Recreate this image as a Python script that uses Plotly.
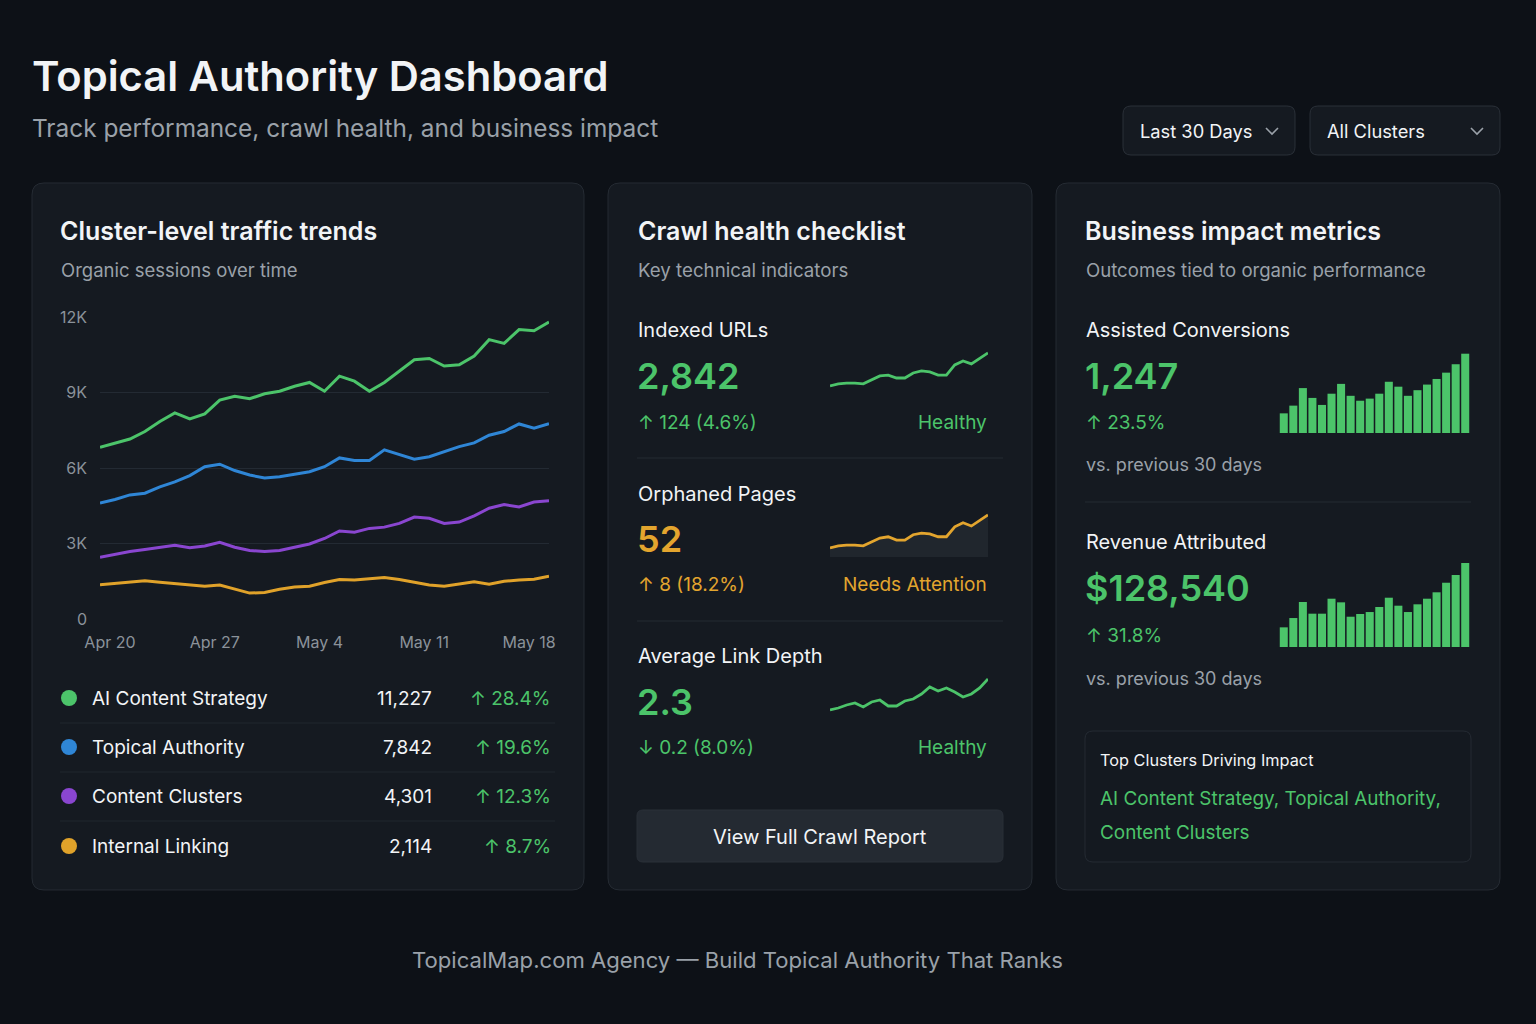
import plotly.graph_objects as go
import pandas as pd

W, H = 1536, 1024
FONT = "Inter"

# ---------------- DATA ----------------
dates = pd.date_range("2024-04-19", "2024-05-19", freq="D").strftime("%Y-%m-%d").tolist()

series_names = ["AI Content Strategy", "Topical Authority", "Content Clusters", "Internal Linking"]
series_colors = ["#4cc46a", "#2f86d6", "#8a46d0", "#e0a22a"]

ai_content_k = [6.82, 7.00, 7.15, 7.45, 7.85, 8.19, 7.95, 8.15, 8.70, 8.85, 8.75, 8.95, 9.05, 9.25, 9.40,
                9.05, 9.65, 9.45, 9.05, 9.40, 9.85, 10.30, 10.35, 10.05, 10.10, 10.45, 11.10, 10.95, 11.50, 11.45, 11.80]
topical_auth_k = [4.61, 4.75, 4.93, 5.00, 5.25, 5.45, 5.70, 6.05, 6.15, 5.90, 5.72, 5.60, 5.65, 5.75, 5.85,
                  6.05, 6.40, 6.30, 6.30, 6.72, 6.55, 6.35, 6.45, 6.65, 6.85, 7.00, 7.30, 7.45, 7.75, 7.58, 7.76]
content_clusters_k = [2.45, 2.58, 2.68, 2.76, 2.85, 2.93, 2.83, 2.90, 3.05, 2.85, 2.72, 2.68, 2.72, 2.85, 2.98,
                      3.20, 3.50, 3.45, 3.60, 3.65, 3.80, 4.05, 4.00, 3.80, 3.85, 4.10, 4.40, 4.55, 4.45, 4.65, 4.70]
internal_linking_k = [1.36, 1.42, 1.48, 1.52, 1.46, 1.40, 1.34, 1.30, 1.35, 1.20, 1.03, 1.05, 1.18, 1.27, 1.30,
                      1.45, 1.57, 1.55, 1.60, 1.65, 1.57, 1.45, 1.35, 1.30, 1.38, 1.48, 1.38, 1.50, 1.55, 1.58, 1.70]
series_values_k = [ai_content_k, topical_auth_k, content_clusters_k, internal_linking_k]

legend_totals = ["11,227", "7,842", "4,301", "2,114"]
legend_changes = ["↑ 28.4%", "↑ 19.6%", "↑ 12.3%", "↑ 8.7%"]

y_tick_vals = [0, 3000, 6000, 9000, 12000]
y_tick_text = ["0", "3K", "6K", "9K", "12K"]
x_tick_vals = ["2024-04-20", "2024-04-27", "2024-05-04", "2024-05-11", "2024-05-18"]

spark_idx = list(range(20))
indexed_urls_trend = [2718, 2726, 2729, 2729, 2726, 2741, 2756, 2759, 2748, 2748, 2767, 2775, 2771, 2759, 2759,
                      2797, 2812, 2801, 2820, 2842]
orphaned_trend = [44.0, 44.5, 44.7, 44.7, 44.5, 45.5, 46.4, 46.7, 45.9, 45.9, 47.2, 47.6, 47.4, 46.7, 46.7,
                  49.1, 50.1, 49.3, 50.6, 52.0]
link_depth_trend = [1.0, 1.2, 1.5, 1.7, 1.3, 1.8, 2.0, 1.4, 1.4, 1.9, 2.1, 2.6, 3.3, 2.9, 3.2, 2.8, 2.3, 2.6, 3.2, 4.1]

bar_idx = list(range(1, 21))
assisted_conv = [28, 39, 64, 50, 40, 56, 70, 53, 46, 49, 56, 73, 66, 53, 61, 69, 77, 86, 98, 113]
revenue_daily = [2980, 4390, 6820, 5050, 5050, 7320, 6770, 4590, 5000, 5300, 6060, 7470, 6260, 5300, 6470,
                 7320, 8290, 9740, 10910, 12730]

# ---------------- COLORS ----------------
BG = "#0d1117"
CARD = "#151a21"
BORDER = "#252b33"
WHITE = "#f2f4f6"
GRAY = "#9aa1a9"
GREEN = "#4cc46a"
ORANGE = "#e3a52e"


def px(x):
    return x / W


def py(y):
    return 1 - y / H


fig = go.Figure()
annotations = []
shapes = []


def text(s, x, y, size, color, weight=400, anchor="left"):
    annotations.append(dict(text=s, x=px(x), y=py(y), xref="paper", yref="paper", xanchor=anchor,
                            yanchor="middle", showarrow=False, borderpad=0,
                            font=dict(family=FONT, size=size, color=color, weight=weight)))


def rrect(x0, y0, x1, y1, r, fill, line, lw=1):
    pts = [("M", x0 + r, y0), ("L", x1 - r, y0), ("Q", x1, y0, x1, y0 + r), ("L", x1, y1 - r),
           ("Q", x1, y1, x1 - r, y1), ("L", x0 + r, y1), ("Q", x0, y1, x0, y1 - r), ("L", x0, y0 + r),
           ("Q", x0, y0, x0 + r, y0)]
    d = ""
    for p in pts:
        cmd = p[0]
        coords = p[1:]
        seg = []
        for i in range(0, len(coords), 2):
            seg.append(f"{px(coords[i]):.5f},{py(coords[i + 1]):.5f}")
        d += cmd + " " + " ".join(seg) + " "
    d += "Z"
    shapes.append(dict(type="path", path=d, xref="paper", yref="paper", fillcolor=fill,
                       line=dict(color=line, width=lw), layer="below"))


def hline(x0, x1, y, color=BORDER, width=1):
    shapes.append(dict(type="line", x0=px(x0), x1=px(x1), y0=py(y), y1=py(y), xref="paper", yref="paper",
                       line=dict(color=color, width=width), layer="below"))


def chevron(cx, cy):
    d = f"M {px(cx - 6):.5f},{py(cy - 3):.5f} L {px(cx):.5f},{py(cy + 3):.5f} L {px(cx + 6):.5f},{py(cy - 3):.5f}"
    shapes.append(dict(type="path", path=d, xref="paper", yref="paper", line=dict(color="#9aa1a9", width=1.6)))


# ---------------- HEADER ----------------
text("Topical Authority Dashboard", 31, 76, 41.7, WHITE, 600)
text("Track performance, crawl health, and business impact", 31, 128, 24.4, GRAY)

rrect(1123, 106, 1295, 155, 8, CARD, "#2a3038")
text("Last 30 Days", 1139, 131, 18.3, WHITE)
chevron(1272, 131)
rrect(1310, 106, 1500, 155, 8, CARD, "#2a3038")
text("All Clusters", 1326, 131, 18.3, WHITE)
chevron(1477, 131)

# ---------------- CARDS ----------------
rrect(32, 183, 584, 890, 12, CARD, BORDER)
rrect(608, 183, 1032, 890, 12, CARD, BORDER)
rrect(1056, 183, 1500, 890, 12, CARD, BORDER)

# Card 1
text("Cluster-level traffic trends", 59, 231, 25, WHITE, 600)
text("Organic sessions over time", 60, 270, 18.5, GRAY)

for i, (name, vals, col) in enumerate(zip(series_names, series_values_k, series_colors)):
    fig.add_trace(go.Scatter(x=dates, y=[v * 1000 for v in vals], mode="lines", name=name,
                             line=dict(color=col, width=3), hoverinfo="skip", showlegend=False,
                             xaxis="x", yaxis="y"))

row_y = [698, 747, 796, 846]
for i in range(4):
    y = row_y[i]
    shapes.append(dict(type="circle", xref="paper", yref="paper", x0=px(61), x1=px(77), y0=py(y - 8),
                       y1=py(y + 8), fillcolor=series_colors[i], line=dict(width=0)))
    text(series_names[i], 91, y, 19, WHITE)
    text(legend_totals[i], 433, y, 19, WHITE, anchor="right")
    text(legend_changes[i], 552, y, 19, GREEN, anchor="right")
    if i < 3:
        hline(60, 555, y + 25, color="#20262e")

# Card 2
text("Crawl health checklist", 637, 231, 25, WHITE, 600)
text("Key technical indicators", 637, 270, 18.7, GRAY)

text("Indexed URLs", 637, 330, 20, WHITE)
text("2,842", 636, 376, 36, GREEN, 600)
text("↑ 124 (4.6%)", 637, 422, 19, GREEN)
text("Healthy", 988, 422, 19, GREEN, anchor="right")
hline(637, 1003, 458)

text("Orphaned Pages", 637, 494, 20, WHITE)
text("52", 636, 539, 36, ORANGE, 600)
text("↑ 8 (18.2%)", 637, 584, 19, ORANGE)
text("Needs Attention", 988, 584, 19, ORANGE, anchor="right")
hline(637, 1003, 621)

text("Average Link Depth", 637, 656, 20, WHITE)
text("2.3", 636, 702, 36, GREEN, 600)
text("↓ 0.2 (8.0%)", 637, 747, 19, GREEN)
text("Healthy", 988, 747, 19, GREEN, anchor="right")

rrect(637, 810, 1003, 862, 6, "#242a32", "#2a3038")
text("View Full Crawl Report", 820, 837, 20, WHITE, anchor="center")

fig.add_trace(go.Scatter(x=spark_idx, y=indexed_urls_trend, mode="lines", line=dict(color=GREEN, width=2.8),
                         hoverinfo="skip", showlegend=False, xaxis="x2", yaxis="y2"))
fig.add_trace(go.Scatter(x=spark_idx, y=orphaned_trend, mode="lines", line=dict(color=ORANGE, width=2.8),
                         fill="tozeroy", fillcolor="#20262d",
                         hoverinfo="skip", showlegend=False, xaxis="x3", yaxis="y3"))
fig.add_trace(go.Scatter(x=spark_idx, y=link_depth_trend, mode="lines", line=dict(color=GREEN, width=2.8),
                         hoverinfo="skip", showlegend=False, xaxis="x4", yaxis="y4"))

# Card 3
text("Business impact metrics", 1084, 231, 25, WHITE, 600)
text("Outcomes tied to organic performance", 1085, 270, 18.6, GRAY)

text("Assisted Conversions", 1085, 330, 20, WHITE)
text("1,247", 1084, 376, 36, GREEN, 600)
text("↑ 23.5%", 1085, 422, 19, GREEN)
text("vs. previous 30 days", 1085, 464, 18, GRAY)
hline(1085, 1471, 502)

text("Revenue Attributed", 1085, 542, 20, WHITE)
text("$128,540", 1084, 588, 36, GREEN, 600)
text("↑ 31.8%", 1085, 635, 19, GREEN)
text("vs. previous 30 days", 1085, 678, 18, GRAY)

rrect(1085, 731, 1471, 862, 8, "#141920", "#252b33")
text("Top Clusters Driving Impact", 1099, 760, 16.3, WHITE)
text("AI Content Strategy, Topical Authority,", 1099, 798, 18.9, GREEN)
text("Content Clusters", 1099, 832, 18.9, GREEN)

fig.add_trace(go.Bar(x=bar_idx, y=assisted_conv, marker=dict(color=GREEN, line=dict(width=0)),
                     hoverinfo="skip", showlegend=False, xaxis="x5", yaxis="y5"))
fig.add_trace(go.Bar(x=bar_idx, y=revenue_daily, marker=dict(color=GREEN, line=dict(width=0)),
                     hoverinfo="skip", showlegend=False, xaxis="x6", yaxis="y6"))

# Footer
text("TopicalMap.com Agency — Build Topical Authority That Ranks", 737, 960, 22.1, GRAY, anchor="center")


# ---------------- AXES ----------------
def hidden_axis(domain, rng=None, anchor=None):
    d = dict(domain=domain, visible=False, showgrid=False, zeroline=False, fixedrange=True, automargin=False)
    if rng is not None:
        d["range"] = rng
    if anchor:
        d["anchor"] = anchor
    return d


layout = dict(
    width=W, height=H, margin=dict(l=0, r=0, t=0, b=0, pad=0, autoexpand=False),
    paper_bgcolor=BG, plot_bgcolor="rgba(0,0,0,0)",
    font=dict(family=FONT, color=WHITE),
    showlegend=False, bargap=0.16,
    annotations=annotations, shapes=shapes,
    xaxis=dict(domain=[px(100), px(549)], type="date", range=[dates[0], dates[-1]],
               tickvals=x_tick_vals, tickformat="%b %-d", showgrid=False, zeroline=False,
               showline=False, ticks="", tickfont=dict(family=FONT, size=16, color="#8b929a"),
               ticklabelstandoff=12, ticklabelshift=-5, anchor="y", fixedrange=True, automargin=False),
    yaxis=dict(domain=[py(619), py(317)], range=[0, 12000], tickvals=y_tick_vals, ticktext=y_tick_text,
               showgrid=True, gridcolor="#232a33", gridwidth=1, zeroline=False, showline=False, ticks="",
               tickfont=dict(family=FONT, size=16, color="#8b929a"), ticklabelstandoff=12, anchor="x",
               fixedrange=True, automargin=False),
    xaxis2=hidden_axis([px(830), px(988)], [0, 19], "y2"),
    yaxis2=hidden_axis([py(390), py(350)], [2703, 2853], "x2"),
    xaxis3=hidden_axis([px(830), px(988)], [0, 19], "y3"),
    yaxis3=hidden_axis([py(557), py(512)], [41.8, 52.7], "x3"),
    xaxis4=hidden_axis([px(830), px(988)], [0, 19], "y4"),
    yaxis4=hidden_axis([py(714), py(676)], [0.6, 4.4], "x4"),
    xaxis5=hidden_axis([px(1279), px(1470)], [0.5, 20.5], "y5"),
    yaxis5=hidden_axis([py(433), py(353)], [0, 114], "x5"),
    xaxis6=hidden_axis([px(1279), px(1470)], [0.5, 20.5], "y6"),
    yaxis6=hidden_axis([py(647), py(563)], [0, 12730], "x6"),
)
fig.update_layout(**layout)

fig.write_html("out.html", config={"displayModeBar": False, "staticPlot": True})
